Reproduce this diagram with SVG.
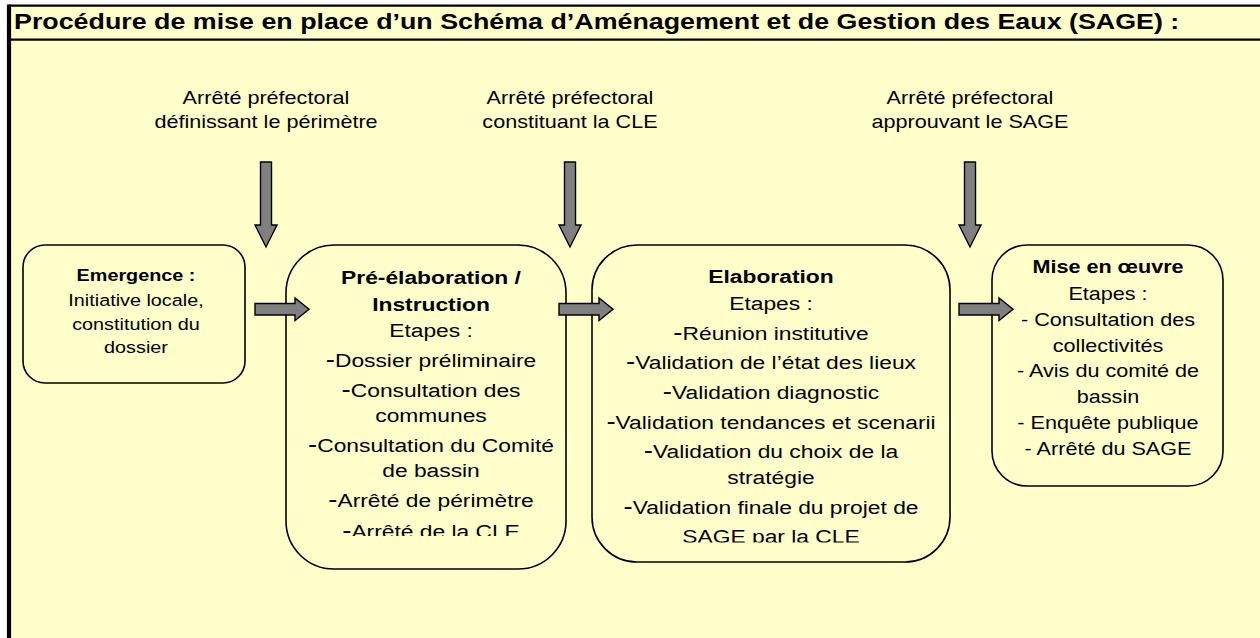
<svg xmlns="http://www.w3.org/2000/svg" width="1260" height="638" viewBox="0 0 1260 638">
<style>
.t{font-family:"Liberation Sans",Arial,sans-serif;fill:#000;text-anchor:middle}
.b{font-weight:bold}
.d{font-size:23px}
.box{fill:#FFFFCC;stroke:#000;stroke-width:1.6}
.arr{fill:#808080;stroke:#000;stroke-width:1.4;stroke-linejoin:miter}
</style>
<defs>
<clipPath id="cp1"><rect x="286" y="245" width="280" height="291"/></clipPath>
<clipPath id="cp2"><rect x="592" y="245" width="358" height="297.5"/></clipPath>
</defs>
<rect x="0" y="0" width="1260" height="638" fill="#FFFFFF"/>
<rect x="9" y="5.5" width="1251" height="633" fill="#FFFFCC"/>
<g id="frame">
<line x1="9" y1="5.7" x2="1260" y2="5.7" stroke="#000" stroke-width="2.2"/>
<line x1="9" y1="39.7" x2="1260" y2="39.7" stroke="#000" stroke-width="2.2"/>
<line x1="9" y1="4.6" x2="9" y2="638" stroke="#000" stroke-width="4.2"/>
</g>
<g id="title" transform="translate(14,0) scale(1.22,1)">
<text class="t b" font-size="22" x="0" y="29" style="text-anchor:start">Procédure de mise en place d’un Schéma d’Aménagement et de Gestion des Eaux (SAGE) :</text>
</g>
<g id="label1" transform="translate(266,0) scale(1.2,1)">
<text class="t" font-size="18"><tspan x="0" y="104">Arrêté préfectoral</tspan><tspan x="0" y="128">définissant le périmètre</tspan></text>
</g>
<g id="label2" transform="translate(570,0) scale(1.2,1)">
<text class="t" font-size="18"><tspan x="0" y="104">Arrêté préfectoral</tspan><tspan x="0" y="128">constituant la CLE</tspan></text>
</g>
<g id="label3" transform="translate(970,0) scale(1.2,1)">
<text class="t" font-size="18"><tspan x="0" y="104">Arrêté préfectoral</tspan><tspan x="0" y="128">approuvant le SAGE</tspan></text>
</g>
<g id="emergence">
<rect class="box" x="23" y="245" width="222" height="138" rx="22"/>
<g transform="translate(136,0) scale(1.2,1)">
<text class="t" font-size="16.5"><tspan class="b" x="0" y="281">Emergence :</tspan><tspan x="0" y="306">Initiative locale,</tspan><tspan x="0" y="330">constitution du</tspan><tspan x="0" y="353">dossier</tspan></text>
</g>
</g>
<g id="preelaboration">
<rect class="box" x="286" y="245" width="280" height="324" rx="48"/>
<g clip-path="url(#cp1)"><g transform="translate(431,0) scale(1.2,1)">
<text class="t" font-size="19"><tspan class="b" x="0" y="284">Pré-élaboration /</tspan><tspan class="b" x="0" y="311">Instruction</tspan><tspan x="0" y="337">Etapes :</tspan><tspan x="0" y="367"><tspan class="d">-</tspan>Dossier préliminaire</tspan><tspan x="0" y="397"><tspan class="d">-</tspan>Consultation des</tspan><tspan x="0" y="422">communes</tspan><tspan x="0" y="452"><tspan class="d">-</tspan>Consultation du Comité</tspan><tspan x="0" y="477">de bassin</tspan><tspan x="0" y="507"><tspan class="d">-</tspan>Arrêté de périmètre</tspan><tspan x="0" y="538"><tspan class="d">-</tspan>Arrêté de la CLE</tspan></text>
</g></g>
</g>
<g id="elaboration">
<rect class="box" x="592" y="245" width="358" height="317" rx="45"/>
<g clip-path="url(#cp2)"><g transform="translate(771,0) scale(1.2,1)">
<text class="t" font-size="19"><tspan class="b" x="0" y="283">Elaboration</tspan><tspan x="0" y="310">Etapes :</tspan><tspan x="0" y="340"><tspan class="d">-</tspan>Réunion institutive</tspan><tspan x="0" y="369"><tspan class="d">-</tspan>Validation de l’état des lieux</tspan><tspan x="0" y="399"><tspan class="d">-</tspan>Validation diagnostic</tspan><tspan x="0" y="429"><tspan class="d">-</tspan>Validation tendances et scenarii</tspan><tspan x="0" y="458"><tspan class="d">-</tspan>Validation du choix de la</tspan><tspan x="0" y="484">stratégie</tspan><tspan x="0" y="514"><tspan class="d">-</tspan>Validation finale du projet de</tspan><tspan x="0" y="543">SAGE par la CLE</tspan></text>
</g></g>
</g>
<g id="miseenoeuvre">
<rect class="box" x="992" y="245" width="231" height="241" rx="35"/>
<g transform="translate(1108,0) scale(1.2,1)">
<text class="t" font-size="18"><tspan class="b" x="0" y="273">Mise en œuvre</tspan><tspan x="0" y="300">Etapes :</tspan><tspan x="0" y="326">- Consultation des</tspan><tspan x="0" y="352">collectivités</tspan><tspan x="0" y="377">- Avis du comité de</tspan><tspan x="0" y="403">bassin</tspan><tspan x="0" y="429">- Enquête publique</tspan><tspan x="0" y="455">- Arrêté du SAGE</tspan></text>
</g>
</g>
<g id="connectors">
<polygon class="arr" points="260.5,162 271.5,162 271.5,225 277,225 266,247 255,225 260.5,225"/>
<polygon class="arr" points="564.5,162 575.5,162 575.5,225 581,225 570,247 559,225 564.5,225"/>
<polygon class="arr" points="964.5,162 975.5,162 975.5,225 981,225 970,247 959,225 964.5,225"/>
<polygon class="arr" points="255,303.5 295,303.5 295,298 309,309.3 295,320.5 295,315 255,315"/>
<polygon class="arr" points="559,303.5 599,303.5 599,298 613,309.3 599,320.5 599,315 559,315"/>
<polygon class="arr" points="959,303.5 999,303.5 999,298 1013,309.3 999,320.5 999,315 959,315"/>
</g>
</svg>
